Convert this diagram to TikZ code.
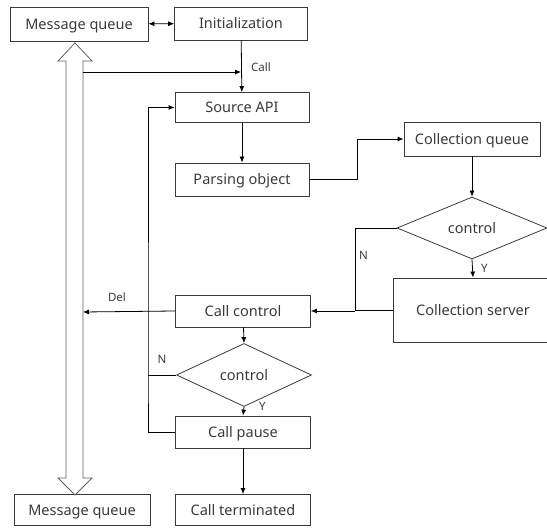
\documentclass[tikz,border=0pt]{standalone}
\usepackage{fontspec}
\setmainfont{Noto Sans}
\usetikzlibrary{arrows.meta,shapes.geometric}
\definecolor{ink}{HTML}{3A3A3A}
\begin{document}
\begin{tikzpicture}[x=1pt,y=-1pt,
  box/.style={draw=ink,line width=0.8pt,inner sep=0pt,text height=11pt,text depth=0pt,
    font=\fontsize{14.5}{16}\selectfont,text=ink},
  dia/.style={diamond,draw=ink,line width=0.8pt,inner sep=0pt,text height=11pt,text depth=0pt,
    font=\fontsize{14.5}{16}\selectfont,text=ink},
  conn/.style={draw=black,line width=0.8pt},
  arr/.style={conn,-{Latex[length=6pt,width=5pt]}},
  lbl/.style={font=\fontsize{11.5}{13}\selectfont,text=ink,inner sep=0pt}]
\useasboundingbox (0,0) rectangle (547,529);

% boxes
\node[box,minimum width=138pt,minimum height=34pt] (mq1) at (79,24) {Message queue};
\node[box,minimum width=133pt,minimum height=33pt] (init) at (241,23.5) {Initialization};
\node[box,minimum width=134pt,minimum height=30pt] (api) at (242,107.5) {Source API};
\node[box,minimum width=134pt,minimum height=33pt] (parse) at (242,179.5) {Parsing object};
\node[box,minimum width=136pt,minimum height=34pt] (cq) at (472,139) {Collection queue};
\node[dia,minimum width=150pt,minimum height=62pt] (ctrl1) at (472,228) {control};
\node[box,minimum width=160pt,minimum height=64pt] (cs) at (473,310) {Collection server};
\node[box,minimum width=135pt,minimum height=32pt] (cc) at (243,311) {Call control};
\node[dia,minimum width=135pt,minimum height=63pt] (ctrl2) at (244,375) {control};
\node[box,minimum width=135pt,minimum height=32pt] (cp) at (243,432) {Call pause};
\node[box,minimum width=135pt,minimum height=31pt] (ct) at (243,510) {Call terminated};
\node[box,minimum width=136pt,minimum height=31pt] (mq2) at (82,510) {Message queue};

% hollow two-way arrow between the message queues
\draw[draw=ink!80,line width=0.8pt] (75,43) -- (92,61) -- (83,61) -- (83,478) -- (92,478)
  -- (75,495) -- (58,478) -- (66,478) -- (66,61) -- (58,61) -- cycle;
\coordinate (callS) at (83,72);
\coordinate (delE) at (83,312);

% connectors
\draw[conn,{Latex[length=6pt,width=5pt]}-{Latex[length=6pt,width=5pt]}] (mq1) -- (init);
\draw[arr] (init) -- (api);
\draw[arr] (callS) -- (callS -| init.south);
\node[lbl,anchor=west] at (251,67) {Call};
\draw[arr] (api) -- (parse);
\draw[arr] (parse.east) -- ++(48,0) |- (cq.west);
\draw[arr] (cq) -- (ctrl1.north);
\draw[arr] (ctrl1.south) -- (cs.north);
\node[lbl,anchor=west] at (481,268) {Y};
\coordinate (nj) at (355,311);
\draw[conn] (ctrl1.west) -| (nj);
\draw[conn] (cs.west) -- (cs.west -| nj);
\draw[arr] (nj) -- (cc.east);
\node[lbl,anchor=west] at (359,255) {N};
\draw[arr] (cc.west) -- (delE);
\node[lbl] at (117,297) {Del};
\draw[arr] (cc) -- (ctrl2.north);
\draw[arr] (ctrl2.south) -- (cp.north);
\node[lbl,anchor=west] at (259,406) {Y};
\coordinate (lj) at (148,375);
\draw[conn] (ctrl2.west) -- (lj);
\draw[arr] (cp.west) -| (lj) |- (api.west);
\node[lbl] at (162,359) {N};
\draw[arr] (cp) -- (ct);
\end{tikzpicture}
\end{document}
